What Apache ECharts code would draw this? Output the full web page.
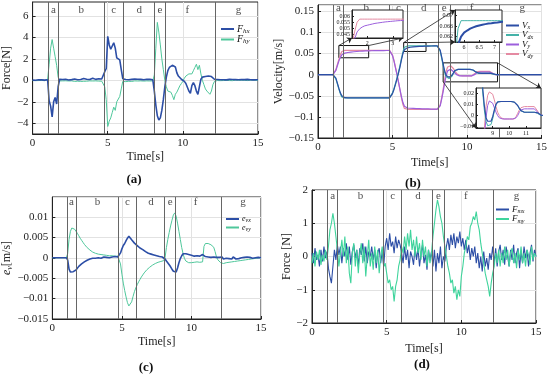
<!DOCTYPE html>
<html><head><meta charset="utf-8">
<script src="https://cdn.jsdelivr.net/npm/echarts@6/dist/echarts.min.js"></script>
<style>html,body{margin:0;padding:0;background:#fff}#c{width:550px;height:374px}</style>
</head><body><div id="c"></div><script>
// ---------- data (sampled every 0.1 s) ----------
const T = []; for (let i = 0; i <= 150; i++) T.push(+(i * 0.1).toFixed(1));
const EVENTS = [1.05, 1.72, 4.76, 6.0, 8.08, 8.85, 12.15];
const PHASES = ['a','b','c','d','e','f','g'];
const PHASE_T = [1.38, 3.24, 5.4, 7.1, 8.47, 10.3, 13.7];

const FHX = [0.02,0.04,0.01,0.03,0.05,0.02,0.04,0.03,0.02,0.05,
 0.05,-1.9,-2.4,-3.4,-2.0,-1.6,-2.2,-0.6,0.1,0.05,
 0.08,0.04,0.1,0.06,0.03,0.15,0.07,0.05,0.12,0.2,
 0.06,0.04,0.08,0.05,0.18,0.07,0.1,0.05,0.08,0.12,
 0.2,0.06,0.09,0.05,0.15,0.08,0.12,0.15,0.8,1.1,
 4.1,3.3,2.9,3.2,3.5,3.0,2.1,1.95,1.9,1.0,
 0.15,0.1,0.08,0.12,0.06,0.1,0.09,0.05,0.11,0.07,
 0.1,0.06,0.09,0.12,0.05,0.08,0.1,0.07,0.09,0.06,
 0.05,-1.0,-2.3,-3.3,-3.7,-3.5,-2.8,-1.8,-0.6,0.3,
 0.9,1.2,1.3,1.4,1.3,1.25,0.7,0.4,0.3,0.1,
 0.05,-0.1,-0.3,-0.4,-1.0,-1.2,-0.5,-0.2,-0.5,-1.0,
 -1.3,-0.6,0.1,0.3,0.4,0.35,0.45,0.4,0.4,0.35,
 0.3,0.1,0.05,0.08,0.04,0.06,0.1,0.05,0.07,0.04,
 0.06,0.09,0.05,0.08,0.04,0.07,0.1,0.05,0.06,0.08,
 0.05,0.07,0.04,0.09,0.06,0.05,0.08,0.04,0.06,0.05,
 0.05];
const FHY = [-0.02,0.01,-0.03,0.0,-0.02,0.02,-0.01,0.0,-0.03,0.01,
 0.1,1.5,3.0,3.8,3.0,2.2,1.4,0.3,-0.05,-0.08,
 -0.05,-0.1,-0.04,-0.08,-0.06,-0.12,-0.05,-0.07,-0.1,-0.06,
 -0.08,-0.05,-0.1,-0.06,-0.09,-0.04,-0.08,-0.11,-0.05,-0.07,
 -0.06,-0.09,-0.05,-0.1,-0.07,-0.05,-0.08,-0.05,-0.6,-1.8,
 -4.3,-3.8,-3.5,-3.0,-2.5,-2.8,-2.0,-1.9,-1.5,-0.8,
 -0.1,-0.08,-0.12,-0.05,-0.09,-0.06,-0.1,-0.07,-0.05,-0.08,
 -0.06,-0.1,-0.05,-0.08,-0.07,-0.09,-0.05,-0.08,-0.06,-0.1,
 -0.05,0.5,3.0,5.4,4.5,3.3,2.0,1.0,0.0,-0.6,
 -1.0,-1.0,-1.1,-1.4,-1.8,-1.3,-1.1,-0.8,-0.5,-0.3,
 -0.1,0.2,0.4,0.5,0.6,0.7,0.6,0.9,1.2,1.5,
 1.0,1.4,0.6,0.0,-0.4,-0.8,-1.0,-1.1,-1.3,-1.0,
 -0.4,-0.1,-0.05,-0.02,0.01,-0.03,0.0,-0.02,0.02,-0.01,
 0.0,-0.02,0.01,-0.03,0.0,0.02,-0.01,0.0,-0.02,0.01,
 -0.01,0.0,0.02,-0.02,0.0,0.01,-0.01,0.02,0.0,-0.01,
 0.0];

const VX = [0,0,0,0,0,0,0,0,0,0,
 0,0,-0.008,-0.02,-0.032,-0.043,-0.05,-0.053,-0.0545,-0.055,
 -0.055,-0.055,-0.055,-0.055,-0.055,-0.055,-0.055,-0.055,-0.055,-0.055,
 -0.055,-0.055,-0.055,-0.055,-0.055,-0.055,-0.055,-0.055,-0.055,-0.055,
 -0.055,-0.055,-0.055,-0.055,-0.055,-0.055,-0.055,-0.055,-0.055,-0.052,
 -0.045,-0.035,-0.023,-0.01,0.003,0.018,0.035,0.05,0.059,0.062,
 0.0635,0.0643,0.065,0.0655,0.0659,0.0662,0.0665,0.0667,0.0669,0.067,
 0.0672,0.0673,0.0675,0.0676,0.0677,0.0678,0.0679,0.068,0.068,0.068,
 0.068,0.068,0.058,0.042,0.025,0.009,-0.002,-0.005,-0.006,-0.005,
 -0.001,0.005,0.010,0.012,0.0125,0.0125,0.0125,0.0125,0.0125,0.0125,
 0.0125,0.0125,0.0125,0.012,0.011,0.009,0.0065,0.0045,0.0035,0.003,
 0.003,0.003,0.003,0.003,0.003,0.003,0.003,0.0025,0.0015,0.0005,
 0,0,0,0,0,0,0,0,0,0, 0,0,0,0,0,0,0,0,0,0, 0,0,0,0,0,0,0,0,0,0,
 0];
const VDX = [0,0,0,0,0,0,0,0,0,0,
 0,0,-0.01,-0.022,-0.034,-0.045,-0.053,-0.055,-0.055,-0.055,
 -0.055,-0.055,-0.055,-0.055,-0.055,-0.055,-0.055,-0.055,-0.055,-0.055,
 -0.055,-0.055,-0.055,-0.055,-0.055,-0.055,-0.055,-0.055,-0.055,-0.055,
 -0.055,-0.055,-0.055,-0.055,-0.055,-0.055,-0.055,-0.055,-0.055,-0.051,
 -0.043,-0.033,-0.021,-0.008,0.006,0.021,0.038,0.054,0.065,0.068,
 0.068,0.068,0.068,0.068,0.068,0.068,0.068,0.068,0.068,0.068,
 0.068,0.068,0.068,0.068,0.068,0.068,0.068,0.068,0.068,0.068,
 0.068,0.068,0.056,0.039,0.021,0.005,-0.005,-0.009,-0.009,-0.008,
 -0.003,0.004,0.010,0.0125,0.0125,0.0125,0.0125,0.0125,0.0125,0.0125,
 0.0125,0.0125,0.0125,0.012,0.011,0.009,0.006,0.004,0.003,0.003,
 0.003,0.003,0.003,0.003,0.003,0.003,0.003,0.002,0.001,0.0,
 0,0,0,0,0,0,0,0,0,0, 0,0,0,0,0,0,0,0,0,0, 0,0,0,0,0,0,0,0,0,0,
 0];
const VY = [0,0,0,0,0,0,0,0,0,0,
 0,0,0.01,0.021,0.032,0.041,0.047,0.0495,0.051,0.052,
 0.0525,0.053,0.0535,0.054,0.0543,0.0546,0.0549,0.0552,0.0554,0.0556,
 0.0558,0.056,0.0562,0.0563,0.0565,0.0566,0.0567,0.0568,0.0569,0.057,
 0.057,0.057,0.0571,0.0571,0.0571,0.0572,0.0572,0.0572,0.0572,0.054,
 0.045,0.032,0.016,0.0,-0.017,-0.035,-0.052,-0.066,-0.075,-0.078,
 -0.079,-0.0793,-0.0796,-0.0798,-0.08,-0.0802,-0.0804,-0.0805,-0.0806,-0.0807,
 -0.0808,-0.0809,-0.081,-0.0811,-0.0812,-0.0813,-0.0814,-0.0815,-0.0816,-0.0817,
 -0.0818,-0.082,-0.074,-0.058,-0.040,-0.020,-0.002,0.009,0.013,0.013,
 0.011,0.007,0.003,0.0,-0.002,-0.003,-0.003,-0.003,-0.003,-0.003,
 -0.003,-0.003,-0.003,-0.003,-0.002,0.0,0.003,0.005,0.006,0.006,
 0.006,0.006,0.006,0.006,0.006,0.006,0.005,0.003,0.001,0.0,
 0,0,0,0,0,0,0,0,0,0, 0,0,0,0,0,0,0,0,0,0, 0,0,0,0,0,0,0,0,0,0,
 0];
const VDY = [0,0,0,0,0,0,0,0,0,0,
 0,0,0.012,0.024,0.036,0.047,0.055,0.0575,0.0575,0.0575,
 0.0575,0.0575,0.0575,0.0575,0.0575,0.0575,0.0575,0.0575,0.0575,0.0575,
 0.0575,0.0575,0.0575,0.0575,0.0575,0.0575,0.0575,0.0575,0.0575,0.0575,
 0.0575,0.0575,0.0575,0.0575,0.0575,0.0575,0.0575,0.0575,0.0575,0.055,
 0.047,0.034,0.018,0.001,-0.017,-0.036,-0.055,-0.071,-0.080,-0.082,
 -0.082,-0.082,-0.082,-0.082,-0.082,-0.082,-0.082,-0.082,-0.082,-0.082,
 -0.082,-0.082,-0.082,-0.082,-0.082,-0.082,-0.082,-0.082,-0.082,-0.082,
 -0.082,-0.082,-0.072,-0.055,-0.035,-0.012,0.008,0.018,0.021,0.021,
 0.019,0.014,0.008,0.003,0.0,-0.002,-0.003,-0.003,-0.003,-0.003,
 -0.003,-0.003,-0.003,-0.003,-0.001,0.002,0.005,0.007,0.008,0.008,
 0.008,0.008,0.008,0.008,0.008,0.008,0.007,0.004,0.001,0.0,
 0,0,0,0,0,0,0,0,0,0, 0,0,0,0,0,0,0,0,0,0, 0,0,0,0,0,0,0,0,0,0,
 0];

const EVX = [0,0,0,0,0,0,0,0,0,0,
 0,-0.0005,-0.0028,-0.0035,-0.0037,-0.0034,-0.0036,-0.003,-0.0026,-0.0021,
 -0.0018,-0.0015,-0.0012,-0.001,-0.0008,-0.0006,-0.0005,-0.0003,-0.0002,-0.0001,
 0.0,-0.0001,0.0001,0.0,0.0002,-0.0001,0.0001,0.0002,0.0,0.0001,
 0.0002,0.0,0.0001,0.0002,0.0001,0.0003,0.0001,0.0002,0.0004,0.0012,
 0.0022,0.003,0.0035,0.0042,0.0048,0.0053,0.0049,0.0044,0.0041,0.0036,
 0.0032,0.003,0.0027,0.0024,0.0022,0.002,0.0017,0.0015,0.0013,0.0011,
 0.001,0.0009,0.0008,0.0007,0.0006,0.0005,0.0004,0.0003,0.0002,0.0002,
 0.0001,-0.0003,-0.0008,-0.0012,-0.0017,-0.0022,-0.0028,-0.0033,-0.0037,-0.0035,
 -0.0025,-0.0012,-0.0002,0.0005,0.001,0.0012,0.001,0.0009,0.0008,0.0007,
 0.0006,0.0008,0.0004,0.0007,0.0005,0.0009,0.0004,0.0006,0.0008,0.0004,
 0.0003,0.0005,0.0002,0.0004,0.0001,0.0003,0.0002,0.0004,0.0001,0.0002,
 0.0001,-0.0002,0.0002,-0.0003,0.0001,-0.0001,0.0003,-0.0002,0.0,-0.0003,
 0.0002,-0.0001,-0.0003,0.0001,-0.0002,0.0002,0.0,-0.0003,0.0001,-0.0001,
 0.0002,-0.0002,0.0001,0.0003,-0.0001,0.0002,0.0,-0.0002,0.0001,-0.0001,
 0.0];
const EVY = [0,0,0,0,0,0,0,0,0,0,
 0,0.001,0.0045,0.0065,0.0073,0.0074,0.007,0.0066,0.006,0.0054,
 0.0048,0.0043,0.0038,0.0033,0.0029,0.0025,0.0022,0.0019,0.0016,0.0014,
 0.0012,0.0011,0.001,0.0009,0.0008,0.0008,0.0007,0.0007,0.0006,0.0006,
 0.0006,0.0005,0.0006,0.0005,0.0005,0.0004,0.0005,0.0004,0.0003,-0.0015,
 -0.004,-0.0062,-0.008,-0.0096,-0.011,-0.0118,-0.0116,-0.0108,-0.0095,-0.0083,
 -0.0074,-0.0066,-0.0059,-0.0053,-0.0047,-0.0042,-0.0037,-0.0033,-0.0029,-0.0026,
 -0.0023,-0.002,-0.0018,-0.0016,-0.0014,-0.0012,-0.0011,-0.001,-0.0009,-0.0008,
 -0.0007,0.0,0.0025,0.0045,0.0062,0.0078,0.0092,0.0105,0.011,0.0102,
 0.0085,0.0065,0.0045,0.0025,0.001,-0.0002,-0.0008,-0.001,-0.0012,-0.0011,
 -0.0012,-0.001,-0.0011,-0.0013,-0.001,-0.0012,-0.0011,-0.0009,-0.001,0.0028,
 0.0035,0.0033,0.0035,0.0031,0.0032,0.003,0.0026,0.0015,0.0002,-0.0005,
 -0.0009,-0.0012,-0.0015,-0.0014,-0.0013,-0.0012,-0.0011,-0.0011,-0.001,-0.001,
 -0.0009,-0.0009,-0.0008,-0.0008,-0.0007,-0.0007,-0.0006,-0.0006,-0.0005,-0.0005,
 -0.0004,-0.0004,-0.0003,-0.0003,-0.0002,-0.0002,-0.0001,-0.0001,0.0,0.0,
 0.0];

const FMX = [0.1,-0.2,0.25,-0.1,0.05,-0.3,0.2,-0.15,0.3,-0.05,
 0.15,-0.35,-0.6,-0.8,-0.3,0.2,-0.1,0.35,0.05,0.3,
 -0.2,0.25,0.0,0.4,-0.1,0.3,-0.25,0.15,0.35,-0.05,
 0.2,-0.3,0.25,0.05,0.4,-0.15,0.3,-0.2,0.15,0.0,
 0.3,-0.1,0.2,-0.35,0.1,0.25,-0.2,0.15,-0.3,0.3,
 0.55,0.2,0.7,0.3,0.45,0.1,0.6,0.25,0.5,0.35,
 0.1,-0.2,0.3,-0.1,0.2,-0.35,0.15,0.0,-0.25,0.3,
 -0.1,0.25,-0.3,0.1,0.35,-0.2,0.05,-0.4,0.2,-0.1,
 0.15,-0.3,0.2,-0.45,0.1,-0.2,0.3,-0.35,0.0,-0.15,
 0.3,0.55,0.2,0.65,0.35,0.7,0.25,0.6,0.4,0.75,
 0.3,0.55,0.2,0.5,0.1,0.35,-0.1,0.25,0.0,0.3,
 -0.2,0.1,-0.35,0.0,-0.45,0.15,-0.3,-0.05,-0.4,0.1,
 -0.1,0.3,-0.2,0.25,-0.3,0.15,0.35,-0.1,0.2,-0.25,
 0.3,0.0,-0.3,0.2,-0.1,0.35,-0.2,0.1,0.25,-0.35,
 0.15,-0.2,0.3,-0.05,0.2,-0.3,0.1,0.35,-0.15,0.2,
 0.0];
const FMY = [-0.2,0.1,-0.3,0.15,-0.1,0.2,-0.25,0.05,-0.15,0.2,
 -0.1,0.3,0.8,1.0,1.3,1.0,0.6,0.2,-0.3,0.1,
 0.5,0.0,0.6,-0.2,0.3,-0.5,-0.8,0.1,0.4,-0.3,
 0.2,-0.5,0.1,0.4,-0.2,0.3,-0.6,0.0,0.5,-0.3,
 0.1,-0.4,0.3,-0.2,0.2,-0.5,0.0,0.3,-0.3,-0.2,
 -0.5,-0.8,-0.7,-1.0,-0.9,-1.35,-0.9,-0.7,-0.3,-0.1,
 0.3,0.1,0.6,0.2,0.7,0.3,0.8,0.2,0.5,0.0,
 0.6,0.1,0.4,-0.1,0.5,0.0,0.3,-0.3,0.2,-0.2,
 0.1,0.6,1.0,1.4,1.7,1.5,1.2,1.0,0.6,0.3,
 0.0,-0.3,-0.5,-0.8,-0.7,-1.1,-0.9,-1.3,-1.0,-1.2,
 -0.6,-0.3,0.1,0.3,0.6,0.5,0.9,1.0,1.2,1.1,
 1.35,1.0,0.8,0.4,0.1,-0.2,-0.5,-0.7,-0.9,-1.2,
 -0.8,-0.5,-0.3,0.1,-0.2,0.2,-0.3,0.1,-0.2,0.3,
 -0.1,0.2,-0.3,0.1,0.25,-0.2,0.1,-0.35,0.2,-0.1,
 0.3,-0.2,0.1,-0.3,0.2,0.05,-0.25,0.3,-0.1,0.1,
 0.0];

// zoom boxes in panel (b): [t0, t1, y0, y1]
const ZOOM_BOXES = [[1.4, 3.4, 0.040, 0.069], [5.75, 7.25, 0.055, 0.076], [8.4, 12.05, -0.017, 0.028]];

// ---------- layout / style ----------
const FONT = 'Liberation Serif';
const BLUE = '#2c4ea6', GREEN = '#4fc79b', GREEN_D = '#3fd49c', TEAL = '#45b2a8', PURPLE = '#9c5fdc', PINK = '#e58aa2';
const G = [
 {left:28, top:2, width:230, height:132},
 {left:318, top:5, width:224, height:133},
 {left:43, top:197, width:218, height:122},
 {left:312, top:190, width:224, height:133},
 {left:352, top:10, width:51, height:28},
 {left:455, top:10, width:47, height:32},
 {left:476, top:88, width:65, height:40}
];
const XR = [[0,15],[0,15],[0,15],[0,15],[1.4,3.4],[5.7,7.25],[8.0,11.9]];
const YR = [[-5,7.3],[-0.15,0.165],[-0.015,0.0149],[-2,2],[0.042,0.065],[0.06,0.072],[-0.011,0.0245]];
const YTICKS = [[-4,-2,0,2,4,6],null,null,null,[0.045,0.05,0.055,0.06],[0.062,0.066,0.07],[-0.01,0,0.01,0.02]];
const YINT = [2,0.05,0.005,1];
const XTICKS_IN = [null,null,null,null,[2,3],[6,6.5,7],[9,10,11]];
const PHASE_OFF = [8, 3, 5, 6];

const fmtNum = v => String(+(+v).toFixed(4)).replace('-', '\u2212');
const pairs = ys => T.map((t,i) => [t, ys[i]]);

const grids = G.map((g,i) => Object.assign({show:true, borderColor:'#222', borderWidth:1,
  backgroundColor: i >= 4 ? '#fff' : 'transparent', z: i >= 4 ? 8 : 0}, g));

const XNAME_GAP = [17, 19, 17, 20];
const YNAME_GAP = [14, 25, 29, 16];
const YNAMES = ['Force[N]', 'Velocity[m/s]', '{i|e}{s|v}[m/s]', 'Force [N]'];

const xAxes = G.map((g,i) => {
  const inset = i >= 4;
  const ax = {type:'value', gridIndex:i, min:XR[i][0], max:XR[i][1], z: inset ? 9 : 0,
    axisLine:{show:true, onZero:false, lineStyle:{color:'#222', width:1}},
    axisTick:{show:true, inside:true, length: inset ? 2 : 3, lineStyle:{color:'#222'}},
    splitLine:{show:!inset, lineStyle:{color:'#e2e2e2', width:1}},
    axisLabel:{fontFamily:FONT, fontSize: inset ? 6 : 11, color:'#222', margin: inset ? 2 : 4, formatter: fmtNum}};
  if (inset) { Object.assign(ax.axisLabel, {customValues:XTICKS_IN[i], showMinLabel:true, showMaxLabel:true, hideOverlap:false});
    ax.axisTick.customValues = XTICKS_IN[i]; }
  else { ax.interval = 5; ax.name = 'Time[s]'; ax.nameLocation = 'middle'; ax.nameGap = XNAME_GAP[i];
    ax.nameTextStyle = {fontFamily:FONT, fontSize:12, color:'#222'}; }
  return ax;
});
const yAxes = G.map((g,i) => {
  const inset = i >= 4;
  const ax = {type:'value', gridIndex:i, min:YR[i][0], max:YR[i][1], z: inset ? 9 : 0,
    axisLine:{show:true, onZero:false, lineStyle:{color:'#222', width:1}},
    axisTick:{show:true, inside:true, length: inset ? 2 : 3, lineStyle:{color:'#222'}},
    splitLine:{show:!inset, lineStyle:{color:'#e2e2e2', width:1}},
    axisLabel:{fontFamily:FONT, fontSize: inset ? 6 : 11, color:'#222', margin: inset ? 2 : 4,
      formatter: fmtNum, showMaxLabel:false}};
  if (YTICKS[i]) { ax.axisLabel.customValues = YTICKS[i]; ax.axisTick.customValues = YTICKS[i]; }
  if (inset) Object.assign(ax.axisLabel, {showMinLabel:true, showMaxLabel:true, hideOverlap:false});
  else {
    ax.interval = YINT[i];
    ax.name = YNAMES[i]; ax.nameLocation = 'middle'; ax.nameGap = YNAME_GAP[i];
    ax.nameTextStyle = {fontFamily:FONT, fontSize:12, color:'#222',
      rich:{i:{fontFamily:FONT, fontStyle:'italic', fontSize:12}, s:{fontFamily:FONT, fontStyle:'italic', fontSize:8, padding:[5,0,0,0]}}};
    if (i === 3 || i === 0) { ax.axisLabel.showMaxLabel = true; ax.axisLabel.showMinLabel = true; }
  }
  return ax;
});

function line(name, gi, ys, color, w, z) {
  return {name, type:'line', xAxisIndex:gi, yAxisIndex:gi, data:pairs(ys), symbol:'none',
    showSymbol:false, lineStyle:{color, width:w}, itemStyle:{color}, z: z || 2, clip:true, silent:true};
}
function phaseSeries(gi) {
  const [y0, y1] = YR[gi];
  const yLab = y1 - (y1 - y0) * (PHASE_OFF[gi] / G[gi].height);
  return {type:'scatter', xAxisIndex:gi, yAxisIndex:gi, symbolSize:1, itemStyle:{color:'rgba(0,0,0,0)'},
    silent:true, z:3, data: PHASE_T.map(t => [t, yLab]),
    label:{show:true, position:'inside', formatter: p => PHASES[p.dataIndex], fontFamily:FONT, fontSize:11, color:'#222'},
    markLine:{silent:true, symbol:'none', animation:false, label:{show:false},
      lineStyle:{color:'#666', width:1, type:'solid'}, data: EVENTS.map(t => ({xAxis:t}))}};
}

const series = [
  line('Fhy', 0, FHY, GREEN, 1), line('Fhx', 0, FHX, BLUE, 1.6),
  line('Vdy', 1, VDY, PINK, 1.2), line('Vy', 1, VY, PURPLE, 1.2), line('Vdx', 1, VDX, TEAL, 1.2), line('Vx', 1, VX, BLUE, 1.2),
  line('evy', 2, EVY, GREEN, 1), line('evx', 2, EVX, BLUE, 1.6),
  line('Fmx', 3, FMX, BLUE, 1.1), line('Fmy', 3, FMY, GREEN_D, 1.1),
  phaseSeries(0), phaseSeries(1), phaseSeries(2), phaseSeries(3),
  {id:'zoomMarks', type:'scatter', xAxisIndex:1, yAxisIndex:1, data:[[0,0]], symbolSize:0, silent:true, z:4,
   markArea:{silent:true, itemStyle:{color:'rgba(0,0,0,0)', borderColor:'#111', borderWidth:1},
     data: ZOOM_BOXES.map(b => [{coord:[b[0], b[3]]}, {coord:[b[1], b[2]]}])}}
];
for (let gi = 4; gi <= 6; gi++) {
  series.push(line('Vdy', gi, VDY, PINK, 1, 10), line('Vy', gi, VY, PURPLE, 1, 10),
    line('Vdx', gi, VDX, TEAL, 1, 10), line('Vx', gi, VX, BLUE, gi === 5 ? 2 : 1.2, 10));
}

const LEG = {Fhx:['F','hx'], Fhy:['F','hy'], Vx:['V','x'], Vdx:['V','dx'], Vy:['V','y'], Vdy:['V','dy'],
  evx:['e','vx'], evy:['e','vy'], Fmx:['F','mx'], Fmy:['F','my']};
function legend(names, left, top, fs) {
  return {data:names, left, top, orient:'vertical', itemWidth:13, itemHeight:2, itemGap:0, icon:'rect',
    selectedMode:false, padding:0, formatter: n => `{i|${LEG[n][0]}}{s|${LEG[n][1]}}`,
    textStyle:{fontFamily:FONT, color:'#111', padding:[0,0,0,-2],
      rich:{i:{fontFamily:FONT, fontStyle:'italic', fontSize:fs, color:'#111'},
            s:{fontFamily:FONT, fontStyle:'italic', fontSize:Math.round(fs*0.7), color:'#111', padding:[Math.round(fs*0.4),0,0,0]}}}};
}

const titles = [['(a)',134,173],['(b)',413,177],['(c)',146,361],['(d)',422,358]].map(([t,x,y]) => ({
  text:t, left:x, top:y, textAlign:'center', padding:0,
  textStyle:{fontFamily:FONT, fontWeight:'bold', fontSize:13, color:'#111'}}));

const option = {
  animation:false,
  textStyle:{fontFamily:FONT},
  title: titles,
  grid: grids, xAxis: xAxes, yAxis: yAxes,
  legend: [legend(['Fhx','Fhy'], 221, 24, 10), legend(['Vx','Vdx','Vy','Vdy'], 506, 21, 9),
           legend(['evx','evy'], 226, 215, 8), legend(['Fmx','Fmy'], 496, 205, 9)],
  series
};
const chart = echarts.init(document.getElementById('c'));
chart.setOption(option);

// arrows from zoom boxes to insets, inset corners from the library's own scales
const px = (gi, x, y) => chart.convertToPixel({gridIndex: gi}, [x, y]);
const arrowData = [
  [{coord:[ZOOM_BOXES[0][0], ZOOM_BOXES[0][3]]}, px(4, XR[4][0], YR[4][0])],
  [{coord:[ZOOM_BOXES[0][1], ZOOM_BOXES[0][3]]}, px(4, XR[4][1], YR[4][0])],
  [{coord:[ZOOM_BOXES[1][0], ZOOM_BOXES[1][3]]}, px(5, XR[5][0], YR[5][1])],
  [{coord:[ZOOM_BOXES[1][1], ZOOM_BOXES[1][3]]}, px(5, XR[5][0], YR[5][0])],
  [{coord:[ZOOM_BOXES[2][1], ZOOM_BOXES[2][3]]}, px(6, XR[6][1], YR[6][1])],
  [{coord:[ZOOM_BOXES[2][0], ZOOM_BOXES[2][2]]}, px(6, XR[6][0], YR[6][0])]
].map(([a, p]) => [a, {x:p[0], y:p[1]}]);
chart.setOption({series:[{id:'zoomMarks', markLine:{silent:true, symbol:['none','arrow'], symbolSize:5,
  animation:false, label:{show:false}, lineStyle:{color:'#222', width:0.8, type:'solid'}, data: arrowData}}]});
</script></body></html>
